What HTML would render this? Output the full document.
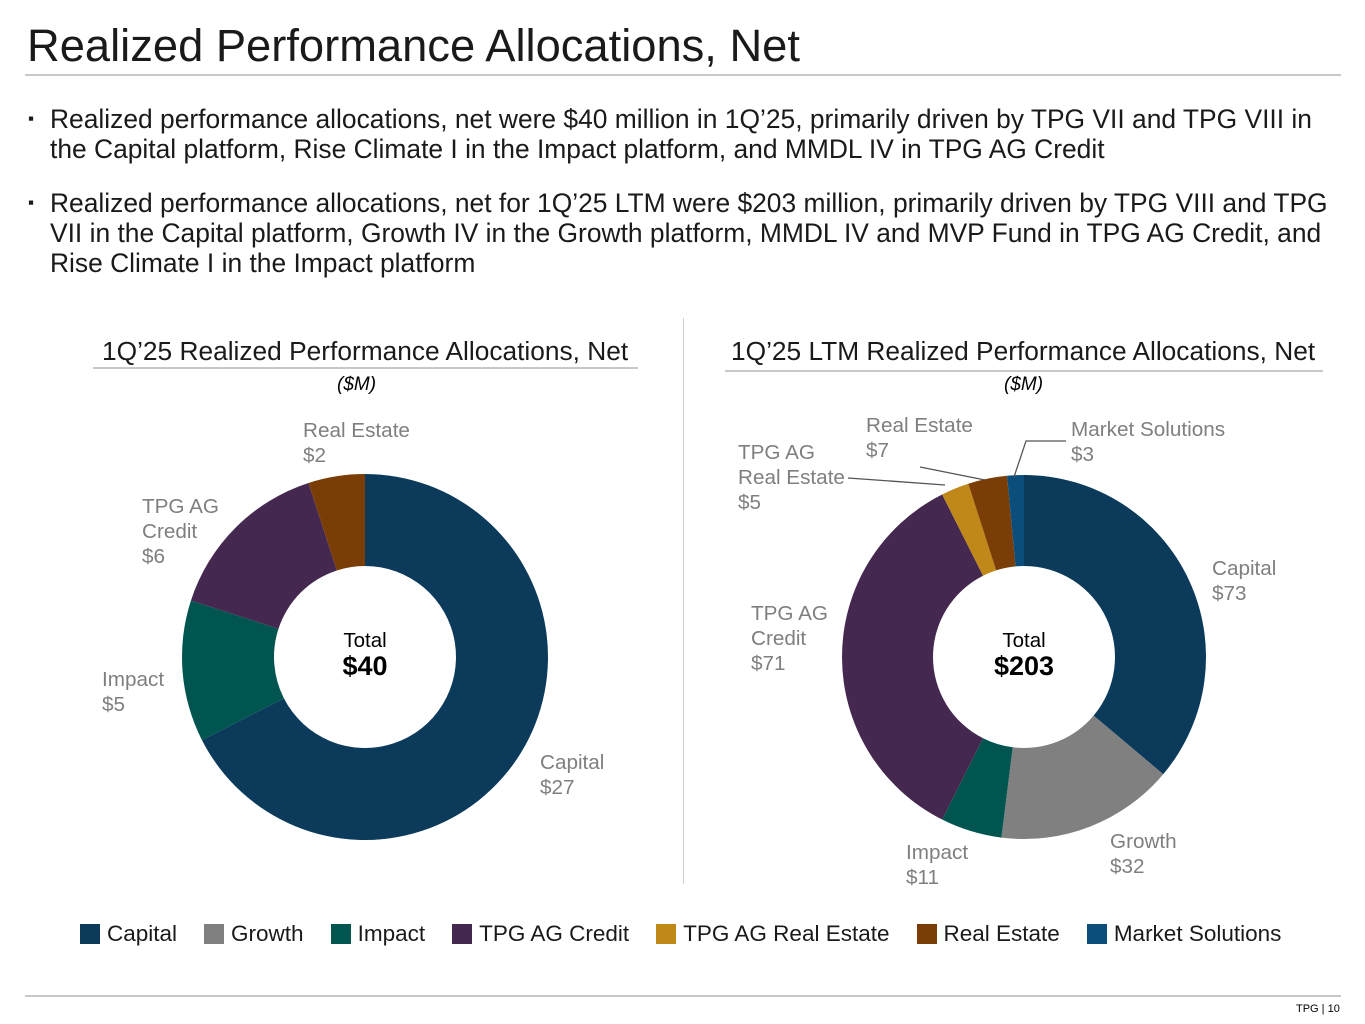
<!DOCTYPE html>
<html><head><meta charset="utf-8"><style>
body{margin:0;width:1365px;height:1024px;background:#fff;font-family:"Liberation Sans",sans-serif;position:relative;overflow:hidden}
.a{position:absolute}
.bul{font-size:26.4px;line-height:30px;color:#1a1a1a;left:50px;width:1295px}
.bul:before{content:"▪";position:absolute;left:-22px;font-size:17px}
.ct{font-size:26.3px;color:#1a1a1a;white-space:nowrap}
.lg{font-size:22.5px;color:#1a1a1a;display:flex;align-items:center;gap:7px;white-space:nowrap}
.sw{width:20px;height:20px;display:inline-block}
</style></head><body>
<div class="a" style="left:27px;top:20px;font-size:45.3px;color:#1a1a1a">Realized Performance Allocations, Net</div>
<div class="a" style="left:25px;top:74px;width:1316px;height:2px;background:#c8c8c8"></div>
<div class="a bul" style="top:104px">Realized performance allocations, net were $40 million in 1Q’25, primarily driven by TPG VII and TPG VIII in the Capital platform, Rise Climate I in the Impact platform, and MMDL IV in TPG AG Credit</div>
<div class="a bul" style="top:188px">Realized performance allocations, net for 1Q’25 LTM were $203 million, primarily driven by TPG VIII and TPG VII in the Capital platform, Growth IV in the Growth platform, MMDL IV and MVP Fund in TPG AG Credit, and Rise Climate I in the Impact platform</div>
<div class="a ct" style="left:102px;top:336px">1Q’25 Realized Performance Allocations, Net</div>
<div class="a" style="left:93px;top:367px;width:545px;height:2px;background:#c8c8c8"></div>
<div class="a" style="left:337px;top:374px;font-size:19px;font-style:italic">($M)</div>
<div class="a ct" style="left:731px;top:336px">1Q’25 LTM Realized Performance Allocations, Net</div>
<div class="a" style="left:725px;top:370px;width:598px;height:2px;background:#c8c8c8"></div>
<div class="a" style="left:1004px;top:374px;font-size:19px;font-style:italic">($M)</div>
<div class="a" style="left:683px;top:318px;width:1px;height:566px;background:#d0d0d0"></div>
<svg class="a" style="left:0;top:0" width="1365" height="1024" id="svg"></svg>
<div class="a" style="left:80px;top:921px;display:flex;gap:27px">
<div class="lg"><span class="sw" style="background:#0b3a5b"></span>Capital</div>
<div class="lg"><span class="sw" style="background:#808080"></span>Growth</div>
<div class="lg"><span class="sw" style="background:#005550"></span>Impact</div>
<div class="lg"><span class="sw" style="background:#45284f"></span>TPG AG Credit</div>
<div class="lg"><span class="sw" style="background:#c08818"></span>TPG AG Real Estate</div>
<div class="lg"><span class="sw" style="background:#7a3d06"></span>Real Estate</div>
<div class="lg"><span class="sw" style="background:#0b4e7c"></span>Market Solutions</div>
</div>
<div class="a" style="left:25px;top:995px;width:1316px;height:2px;background:#c8c8c8"></div>
<div class="a" style="left:1296px;top:1003px;font-size:11px">TPG | 10</div>
<script>
const categories=["Capital","Growth","Impact","TPG AG Credit","TPG AG Real Estate","Real Estate","Market Solutions"];
const colors=["#0b3a5b","#808080","#005550","#45284f","#c08818","#7a3d06","#0b4e7c"];
const q1Values=[27,0,5,6,0,2,0];
const ltmValues=[73,32,11,71,5,7,3];
const q1Total="$40";
const ltmTotal="$203";
const svg=document.getElementById('svg');
const NS="http://www.w3.org/2000/svg";
function pt(cx,cy,r,a){return [cx+r*Math.sin(a),cy-r*Math.cos(a)];}
function donut(name,vals,cx,cy,R,r,total){
  const sum=vals.reduce((a,b)=>a+b,0);let a0=0;
  vals.forEach((v,i)=>{if(!v)return;const a1=a0+v/sum*2*Math.PI;
    const [x1,y1]=pt(cx,cy,R,a0),[x2,y2]=pt(cx,cy,R,a1),[x3,y3]=pt(cx,cy,r,a1),[x4,y4]=pt(cx,cy,r,a0);
    const lg=(a1-a0)>Math.PI?1:0;
    const p=document.createElementNS(NS,'path');
    p.setAttribute('d',`M${x1},${y1}A${R},${R} 0 ${lg} 1 ${x2},${y2}L${x3},${y3}A${r},${r} 0 ${lg} 0 ${x4},${y4}Z`);
    p.setAttribute('fill',colors[i]);
    
    
    svg.appendChild(p);a0=a1;});
  const t=document.createElementNS(NS,'text');t.setAttribute('x',cx);t.setAttribute('y',cy-10);t.setAttribute('text-anchor','middle');t.setAttribute('font-size','20.5');t.textContent='Total';
  
  
  svg.appendChild(t);
  const t2=document.createElementNS(NS,'text');t2.setAttribute('x',cx);t2.setAttribute('y',cy+18);t2.setAttribute('text-anchor','middle');t2.setAttribute('font-size','27');t2.setAttribute('font-weight','bold');t2.textContent=total;
  
  
  svg.appendChild(t2);
}
donut('q1',q1Values,365,657,183,91,q1Total);
donut('ltm',ltmValues,1024,657,182,91,ltmTotal);
function lab(name,lines,x,y){lines.forEach((l,k)=>{const t=document.createElementNS(NS,'text');t.setAttribute('x',x);t.setAttribute('y',y+k*25);t.setAttribute('font-size','20.7');t.setAttribute('fill','#7f7f7f');t.textContent=l;
  
  
  svg.appendChild(t);});}
const v=n=>'$'+n;
lab('q1-label-real-estate',['Real Estate',v(q1Values[5])],303,437);
lab('q1-label-credit',['TPG AG','Credit',v(q1Values[3])],142,513);
lab('q1-label-impact',['Impact',v(q1Values[2])],102,686);
lab('q1-label-capital',['Capital',v(q1Values[0])],540,769);
lab('ltm-label-real-estate',['Real Estate',v(ltmValues[5])],866,432);
lab('ltm-label-market-solutions',['Market Solutions',v(ltmValues[6])],1071,436);
lab('ltm-label-ag-real-estate',['TPG AG','Real Estate',v(ltmValues[4])],738,459);
lab('ltm-label-credit',['TPG AG','Credit',v(ltmValues[3])],751,620);
lab('ltm-label-capital',['Capital',v(ltmValues[0])],1212,575);
lab('ltm-label-growth',['Growth',v(ltmValues[1])],1110,848);
lab('ltm-label-impact',['Impact',v(ltmValues[2])],906,859);
[["M848,478L945,485"],["M920,467L985,480"],["M1014,477L1026,441L1066,441"]].forEach((d,i)=>{const p=document.createElementNS(NS,'path');p.setAttribute('d',d[0]);p.setAttribute('stroke','#555');p.setAttribute('fill','none');p.setAttribute('stroke-width','1.3');
  
  
  svg.appendChild(p);});
</script>
</body></html>
